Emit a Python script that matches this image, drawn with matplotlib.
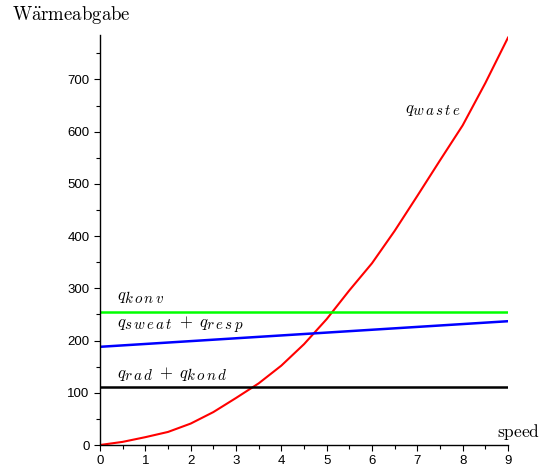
import matplotlib
matplotlib.use('Agg')
import matplotlib.pyplot as plt
import matplotlib._mathtext as mathtext_internals
from matplotlib.ticker import MultipleLocator

# values
speed = [0, 0.5, 1, 1.5, 2, 2.5, 3, 3.5, 4, 4.5, 5, 5.5, 6, 6.5, 7, 7.5, 8, 8.5, 9]
q_waste = [0, 6, 15, 25, 41, 63, 90, 118, 152, 193, 241, 296, 348, 410, 477, 545, 612, 693, 780]
speed_ends = [0, 9]
q_konv = [254, 254]
q_sweat_resp = [188, 237]
q_rad_kond = [112, 112]

plt.rcParams['mathtext.fontset'] = 'cm'
plt.rcParams['font.family'] = ['Liberation Sans Narrow', 'Liberation Sans', 'DejaVu Sans']
# Maple sets subscripts almost at full size
mathtext_internals.SHRINK_FACTOR = 0.9


def q(word):
    # letters of the subscript are spread a little
    return r'q_{' + r'\,'.join(word) + '}'


fig = plt.figure(figsize=(5.47, 4.70), dpi=100)
ax = fig.add_axes([100 / 547, 25 / 470, 408 / 547, 410 / 470])

ax.plot(speed, q_waste, color='#ff0000', linewidth=1.5)
ax.plot(speed_ends, q_konv, color='#00ff00', linewidth=1.8)
ax.plot(speed_ends, q_sweat_resp, color='#0000ff', linewidth=1.8)
ax.plot(speed_ends, q_rad_kond, color='black', linewidth=1.8)

ax.set_xlim(0, 9)
ax.set_ylim(0, 785)
for side in ['top', 'right']:
    ax.spines[side].set_visible(False)
ax.spines['left'].set_linewidth(1.0)
ax.spines['bottom'].set_linewidth(1.0)

ax.xaxis.set_major_locator(MultipleLocator(1))
ax.xaxis.set_minor_locator(MultipleLocator(0.5))
ax.yaxis.set_major_locator(MultipleLocator(100))
ax.yaxis.set_minor_locator(MultipleLocator(50))
ax.tick_params(which='both', direction='out', width=0.8, labelsize=9.5, pad=3)
ax.tick_params(which='major', length=4.5)
ax.tick_params(which='minor', length=3)

fs = 12
plus = r'\;+\;'
ax.text(6.73, 641, '$' + q('waste') + '$', fontsize=fs, va='center', ha='left')
ax.text(0.37, 281, '$' + q('konv') + '$', fontsize=fs, va='center', ha='left')
ax.text(0.37, 228, '$' + q('sweat') + plus + q('resp') + '$', fontsize=fs,
        va='center', ha='left')
ax.text(0.37, 135, '$' + q('rad') + plus + q('kond') + '$', fontsize=fs,
        va='center', ha='left')

fig.text(12 / 547, 1 - 15 / 470, r'$\mathrm{W\ddot{a}rmeabgabe}$', fontsize=13.5,
         va='center', ha='left')
fig.text(497 / 547, 1 - 432 / 470, r'$\mathrm{speed}$', fontsize=12.5,
         va='center', ha='left')

fig.savefig('out.png', dpi=100)
